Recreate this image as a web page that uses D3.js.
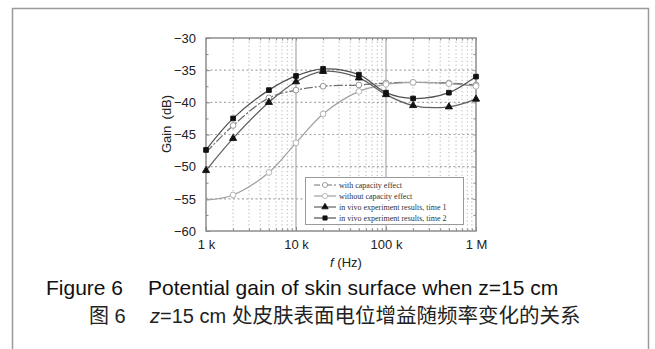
<!DOCTYPE html>
<html>
<head>
<meta charset="utf-8">
<script src="https://cdn.jsdelivr.net/npm/d3@7"></script>
<style>
  body { margin: 0; background: #fff; }
  svg { display: block; }
</style>
</head>
<body>
<svg id="chart" width="655" height="349"></svg>
<script>
// sample frequencies (Hz) and gain values (dB)
const freqs = [1e3, 2e3, 5e3, 1e4, 2e4, 5e4, 1e5, 2e5, 5e5, 1e6];
const withCapacity = [-47.8, -43.6, -39.3, -38.1, -37.5, -37.3, -37.0, -36.9, -37.0, -37.3];
const withoutCapacity = [-55.2, -54.4, -50.9, -46.3, -41.8, -38.3, -37.2, -36.9, -37.1, -37.5];
const vivoTime1 = [-50.6, -45.6, -40.0, -36.8, -35.2, -36.2, -38.8, -40.5, -40.7, -39.5];
const vivoTime2 = [-47.4, -42.5, -38.1, -35.9, -34.8, -35.7, -38.5, -39.4, -38.5, -36.0];

const xTickValues = [1e3, 1e4, 1e5, 1e6];
const xTickLabels = ["1 k", "10 k", "100 k", "1 M"];
const yTickValues = [-60, -55, -50, -45, -40, -35, -30];
const legendLabels = [
    "with capacity effect",
    "without capacity effect",
    "in vivo experiment results, time 1",
    "in vivo experiment results, time 2"
];

const svg = d3.select("#chart");
const sans = "'Liberation Sans', Arial, sans-serif";
const cjk = "'Noto Sans CJK SC', sans-serif";

// outer figure frame
svg.append("rect")
    .attr("x", 12.5).attr("y", 8.5)
    .attr("width", 636).attr("height", 360)
    .attr("fill", "none")
    .attr("stroke", "#9a9a9a")
    .attr("stroke-width", 1.5);

const x = d3.scaleLog().domain([1e3, 1e6]).range([206, 476]);
const y = d3.scaleLinear().domain([-60, -30]).range([231, 38]);

// minor frequency positions 2..9 per decade
let minorX = [];
[1e3, 1e4, 1e5].forEach(dec => {
    for (let k = 2; k <= 9; k++) minorX.push(dec * k);
});

const grid = svg.append("g");
grid.selectAll(".vminor").data(minorX).enter().append("line")
    .attr("x1", d => x(d)).attr("x2", d => x(d))
    .attr("y1", y(-30)).attr("y2", y(-60))
    .attr("stroke", "#b4b4b4").attr("stroke-width", 1)
    .attr("stroke-dasharray", "1.2,2.6");
grid.selectAll(".vmajor").data([1e4, 1e5]).enter().append("line")
    .attr("x1", d => x(d)).attr("x2", d => x(d))
    .attr("y1", y(-30)).attr("y2", y(-60))
    .attr("stroke", "#b0b0b0").attr("stroke-width", 1.3);
grid.selectAll(".hgrid").data(yTickValues.slice(1, -1)).enter().append("line")
    .attr("x1", x(1e3)).attr("x2", x(1e6))
    .attr("y1", d => y(d)).attr("y2", d => y(d))
    .attr("stroke", "#a8a8a8").attr("stroke-width", 1.1)
    .attr("stroke-dasharray", "2,2.5");

// axes, ticks pointing inward
function styleAxis(g) {
    g.select(".domain").remove();
    g.selectAll(".tick line").attr("stroke", "#888");
    g.selectAll(".tick text").attr("fill", "#222")
        .style("font-family", sans).style("font-size", "13px");
}

svg.append("g").attr("transform", `translate(0,${y(-60)})`)
    .call(d3.axisBottom(x).tickValues(xTickValues)
        .tickFormat((d, i) => xTickLabels[i]).tickSizeInner(-4).tickPadding(9))
    .call(styleAxis);
svg.append("g").attr("transform", `translate(0,${y(-60)})`)
    .call(d3.axisBottom(x).tickValues(minorX).tickFormat("").tickSizeInner(-2.5))
    .call(styleAxis);
svg.append("g").attr("transform", `translate(0,${y(-30)})`)
    .call(d3.axisTop(x).tickValues(minorX.concat(xTickValues)).tickFormat("").tickSizeInner(-2.5))
    .call(styleAxis);
svg.append("g").attr("transform", `translate(${x(1e3)},0)`)
    .call(d3.axisLeft(y).tickValues(yTickValues).tickSizeInner(-4).tickPadding(10))
    .call(styleAxis);
svg.append("g").attr("transform", `translate(${x(1e3)},0)`)
    .call(d3.axisLeft(y).tickValues(d3.range(-57.5, -30, 5)).tickFormat("").tickSizeInner(-2.5))
    .call(styleAxis);
svg.append("g").attr("transform", `translate(${x(1e6)},0)`)
    .call(d3.axisRight(y).tickValues(d3.range(-57.5, -30, 2.5)).tickFormat("").tickSizeInner(-2.5))
    .call(styleAxis);

svg.append("rect")
    .attr("x", x(1e3)).attr("y", y(-30))
    .attr("width", x(1e6) - x(1e3)).attr("height", y(-60) - y(-30))
    .attr("fill", "none").attr("stroke", "#8c8c8c").attr("stroke-width", 1.5);

// axis titles
svg.append("text")
    .attr("transform", `translate(171,124) rotate(-90)`)
    .attr("text-anchor", "middle")
    .style("font-family", sans).style("font-size", "13px").attr("fill", "#222")
    .text("Gain\u2009 (dB)");
const xl = svg.append("text")
    .attr("x", 346).attr("y", 267)
    .attr("text-anchor", "middle")
    .style("font-family", sans).style("font-size", "13px").attr("fill", "#222");
xl.append("tspan").style("font-style", "italic").text("f");
xl.append("tspan").text(" (Hz)");

// series; the simulated curves have no marker at 1 kHz
const series = [
    {values: withCapacity, color: "#707070", dash: "9,2,2,2", marker: "circle", fill: "#fff", mcolor: "#8a8a8a", from: 1},
    {values: withoutCapacity, color: "#a0a0a0", dash: null, marker: "circle", fill: "#fff", mcolor: "#ababab", from: 1},
    {values: vivoTime1, color: "#606060", dash: null, marker: "triangle", fill: "#111", mcolor: "#111", from: 0},
    {values: vivoTime2, color: "#505050", dash: null, marker: "square", fill: "#111", mcolor: "#111", from: 0}
];

const line = d3.line()
    .x(d => x(d[0]))
    .y(d => y(d[1]))
    .curve(d3.curveCatmullRom.alpha(0.5));

const symbolType = {circle: d3.symbolCircle, triangle: d3.symbolTriangle, square: d3.symbolSquare};
const symbolSize = {circle: 26, triangle: 22, square: 22};

series.forEach(s => {
    const pts = freqs.map((f, i) => [f, s.values[i]]);
    svg.append("path")
        .datum(pts)
        .attr("d", line)
        .attr("fill", "none")
        .attr("stroke", s.color)
        .attr("stroke-width", 1.25)
        .attr("stroke-dasharray", s.dash);
    svg.selectAll(null).data(pts.slice(s.from)).enter().append("path")
        .attr("transform", d => `translate(${x(d[0])},${y(d[1])})`)
        .attr("d", d3.symbol().type(symbolType[s.marker]).size(symbolSize[s.marker]))
        .attr("fill", s.fill)
        .attr("stroke", s.mcolor)
        .attr("stroke-width", 0.9);
});

// legend
const legend = svg.append("g");
legend.append("rect")
    .attr("x", 305.5).attr("y", 177.5)
    .attr("width", 158).attr("height", 47)
    .attr("fill", "#fff").attr("stroke", "#9a9a9a").attr("stroke-width", 1);
legendLabels.forEach((label, i) => {
    const s = series[i];
    const ly = 185 + i * 11;
    legend.append("line")
        .attr("x1", 314).attr("x2", 336).attr("y1", ly).attr("y2", ly)
        .attr("stroke", s.color).attr("stroke-width", 1.2)
        .attr("stroke-dasharray", i === 0 ? "6,2,2,2" : null);
    legend.append("path")
        .attr("transform", `translate(325,${ly})`)
        .attr("d", d3.symbol().type(symbolType[s.marker]).size(symbolSize[s.marker] * 0.8))
        .attr("fill", s.fill).attr("stroke", s.mcolor).attr("stroke-width", 0.8);
    legend.append("text")
        .attr("x", 339).attr("y", ly + 2.8)
        .style("font-family", "'Liberation Serif', 'Times New Roman', serif")
        .style("font-size", "8px").attr("fill", "#333")
        .text(label);
});

// caption, English line
svg.append("text")
    .attr("x", 46).attr("y", 295)
    .style("font-family", sans).style("font-size", "21px").attr("fill", "#111")
    .text("Figure 6");
svg.append("text")
    .attr("x", 148).attr("y", 295)
    .style("font-family", sans).style("font-size", "21px").attr("fill", "#111")
    .text("Potential gain of skin surface when z=15 cm");

// caption, Chinese line
svg.append("text")
    .attr("x", 89).attr("y", 323)
    .style("font-family", sans).style("font-size", "20px").attr("fill", "#222")
    .call(t => {
        t.append("tspan").style("font-family", cjk).text("图");
        t.append("tspan").text(" 6");
    });
svg.append("text")
    .attr("x", 150).attr("y", 323)
    .style("font-family", sans).style("font-size", "20px").attr("fill", "#222")
    .call(t => {
        t.append("tspan").style("font-style", "italic").text("z");
        t.append("tspan").text("=15 cm");
    });
svg.append("text")
    .attr("x", 232).attr("y", 323)
    .style("font-family", cjk).style("font-size", "20.5px").attr("fill", "#222")
    .text("处皮肤表面电位增益随频率变化的关系");
</script>
</body>
</html>
